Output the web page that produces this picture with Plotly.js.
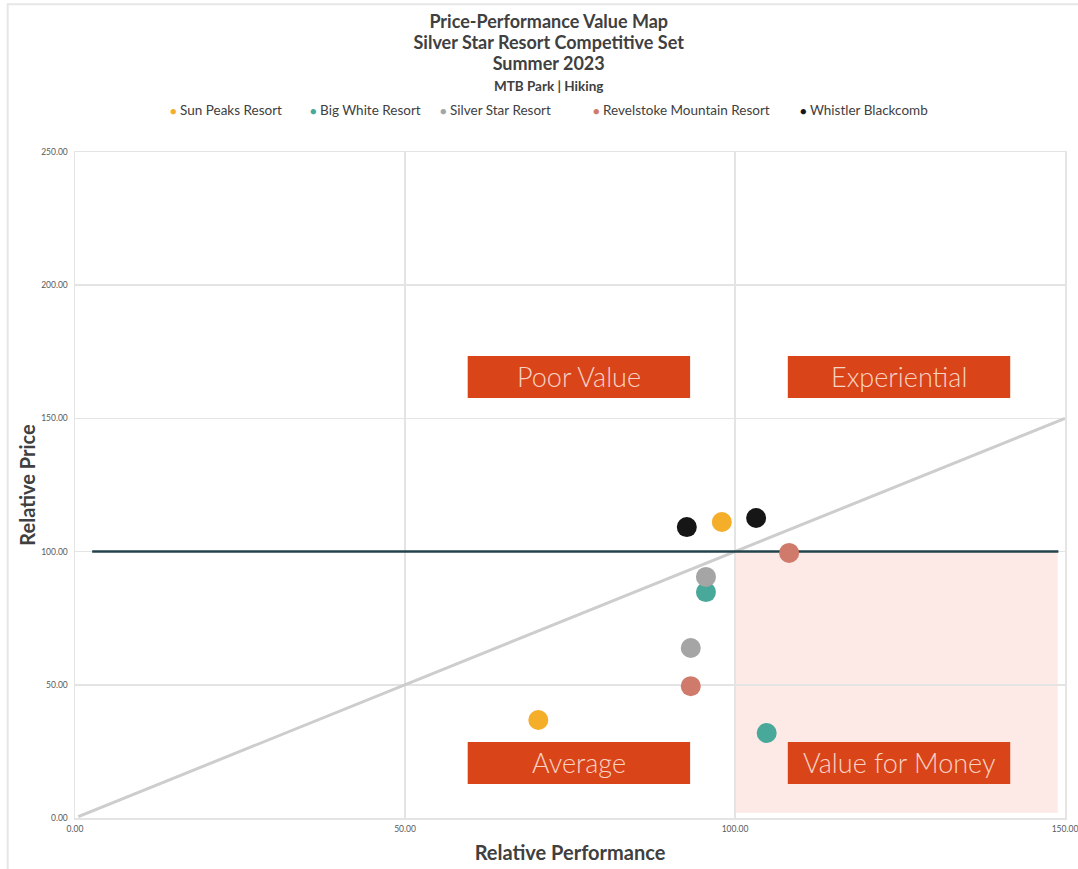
<!DOCTYPE html>
<html><head><meta charset="utf-8">
<script src="https://cdn.plot.ly/plotly-3.0.1.min.js"></script>
<style>html,body{margin:0;padding:0;background:#fff;}#chart{width:1078px;height:869px;}</style>
</head><body><div id="chart"></div>
<script>
// Data
const resorts = ["Sun Peaks Resort","Big White Resort","Silver Star Resort","Revelstoke Mountain Resort","Whistler Blackcomb"];
const colors = ["#F4AE2A","#48A899","#A5A5A5","#CF7A6B","#161616"];
const perfX = {
  "Sun Peaks Resort":[98.0, 70.2],
  "Big White Resort":[95.6, 104.8],
  "Silver Star Resort":[95.6, 93.3],
  "Revelstoke Mountain Resort":[108.2, 93.3],
  "Whistler Blackcomb":[92.7, 103.2]
};
const priceY = {
  "Sun Peaks Resort":[111.1, 36.8],
  "Big White Resort":[84.8, 31.9],
  "Silver Star Resort":[90.5, 63.8],
  "Revelstoke Mountain Resort":[99.5, 49.5],
  "Whistler Blackcomb":[109.2, 112.6]
};
const parityX = [0.5, 150];
const parityY = [0.5, 150];
const benchX = [2.6, 149];
const benchY = [100, 100];
const xTicks = [0, 50, 100, 150];
const yTicks = [0, 50, 100, 150, 200, 250];
const quadrantLabels = ["Poor Value","Experiential","Average","Value for Money"];

const font = "Lato, 'Open Sans', sans-serif";
const traces = [];
traces.push({x: parityX, y: parityY, mode:"lines", line:{color:"#CDCDCD", width:3}, showlegend:false, hoverinfo:"skip"});
traces.push({x: benchX, y: benchY, mode:"lines", line:{color:"#23434B", width:2.5}, showlegend:false, hoverinfo:"skip"});
resorts.forEach((r,i)=>{
  traces.push({x: perfX[r], y: priceY[r], name: r, mode:"markers", type:"scatter", showlegend:false,
    marker:{color: colors[i], size: 20, line:{width:0}}});
});

const boxes = [
  {x0:59.5, x1:93.2, y0:157.7, y1:173.4},
  {x0:108.0, x1:141.7, y0:157.7, y1:173.4},
  {x0:59.5, x1:93.2, y0:12.8, y1:28.5},
  {x0:108.0, x1:141.7, y0:12.8, y1:28.5}
];
const shapes = [
  {type:"rect", xref:"x", yref:"y", x0:100, x1:148.9, y0:2, y1:100, fillcolor:"#FDE9E6", line:{width:0}, layer:"below"},
  {type:"rect", xref:"paper", yref:"paper", x0:-0.068, x1:1.02, y0:-0.08, y1:1.222, line:{color:"#E6E6E6", width:2}, fillcolor:"rgba(0,0,0,0)"}
];
const annotations = [];
boxes.forEach((b,i)=>{
  shapes.push({type:"rect", xref:"x", yref:"y", x0:b.x0, x1:b.x1, y0:b.y0, y1:b.y1, fillcolor:"#DA4419", line:{width:0}});
  annotations.push({x:(b.x0+b.x1)/2, y:(b.y0+b.y1)/2, xref:"x", yref:"y", text: quadrantLabels[i], showarrow:false,
    font:{family:"Lato, sans-serif", size:27, color:"#F8D3C4", weight:300}});
});
// legend items (left edges in pixels)
const legendPx = [168, 308, 438, 591, 798];
resorts.forEach((r,i)=>{
  annotations.push({xref:"paper", yref:"paper", x:(legendPx[i]-75)/990, y:(818-110)/666, xanchor:"left", yanchor:"middle",
    showarrow:false, text:"<span style='color:"+colors[i]+";font-size:11px'>●</span> "+r,
    font:{family:font, size:13.5, color:"#404040"}});
});

const layout = {
  width:1078, height:869,
  margin:{l:75, r:13, t:152, b:51},
  paper_bgcolor:"#fff", plot_bgcolor:"#fff",
  font:{family:font, color:"#404040"},
  showlegend:false,
  title:{text:"<b><span style='font-size:18px'>Price-Performance Value Map</span><br><span style='font-size:18px'>Silver Star Resort Competitive Set</span><br><span style='font-size:18px'>Summer 2023</span></b><br><b><span style='font-size:13.5px'>MTB Park | Hiking</span></b>",
    x:0.509, xanchor:"center", y:0.968, yanchor:"top", font:{family:font, size:16.2, color:"#404040"}},
  xaxis:{range:[0,150], tickvals:xTicks, ticktext:xTicks.map(v=>v.toFixed(2)), showgrid:true, gridcolor:"#E4E4E4", gridwidth:1.5,
    showline:true, mirror:true, linecolor:"#E4E4E4", linewidth:1.5, ticklabeloverflow:"allow",
    zeroline:false, ticks:"", tickfont:{size:8.5, color:"#595959"}, ticklabelstandoff:2,
    title:{text:"<b>Relative Performance</b>", font:{family:font, size:20, color:"#404040"}, standoff:13}},
  yaxis:{range:[0,250], tickvals:yTicks, ticktext:yTicks.map(v=>v.toFixed(2)), showgrid:true, gridcolor:"#E4E4E4", gridwidth:1.5,
    showline:true, mirror:true, linecolor:"#E4E4E4", linewidth:1.5, ticklabeloverflow:"allow",
    zeroline:false, ticks:"", tickfont:{size:8.5, color:"#595959"}, ticklabelstandoff:4,
    title:{text:"<b>Relative Price</b>", font:{family:font, size:20, color:"#404040"}, standoff:0}},
  shapes: shapes,
  annotations: annotations
};
Plotly.newPlot("chart", traces, layout, {displayModeBar:false, staticPlot:true});
</script></body></html>
